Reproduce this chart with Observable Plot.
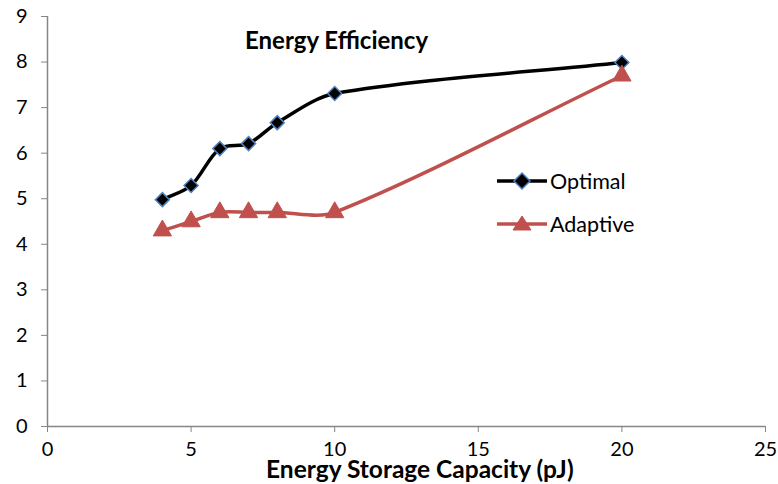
<!DOCTYPE html>
<html>
<head>
<meta charset="utf-8">
<script src="https://cdn.jsdelivr.net/npm/d3@7"></script>
<script src="https://cdn.jsdelivr.net/npm/@observablehq/plot@0.6"></script>
<style>
  html, body { margin: 0; padding: 0; background: #fff; }
  #wrap { position: relative; width: 778px; height: 484px; font-family: Lato, "Open Sans", sans-serif; }
  .title { position: absolute; left: 245px; top: 25px; font-weight: bold; font-size: 24px; color: #000; white-space: nowrap; }
  .xtitle { position: absolute; left: 266px; top: 454px; font-weight: bold; font-size: 24.5px; color: #000; white-space: nowrap; }
  .leg { position: absolute; left: 496px; height: 24px; display: flex; align-items: center; font-size: 21.5px; color: #000; }
  .leg span { margin-left: 2px; }
</style>
</head>
<body>
<div id="wrap"></div>
<script>
const xValues = [4, 5, 6, 7, 8, 10, 20];
const optimal = [4.98, 5.29, 6.10, 6.21, 6.67, 7.31, 7.99];
const adaptive = [4.30, 4.50, 4.70, 4.70, 4.70, 4.70, 7.70];
const xTicks = [0, 5, 10, 15, 20, 25];
const yTicks = [0, 1, 2, 3, 4, 5, 6, 7, 8, 9];
const seriesNames = ["Optimal", "Adaptive"];
const chartTitle = "Energy Efficiency";
const xLabel = "Energy Storage Capacity (pJ)";

const optData = xValues.map((x, i) => ({x, y: optimal[i]}));
const adpData = xValues.map((x, i) => ({x, y: adaptive[i]}));

const axisGray = "#868686";
const red = "#c0504d";
const blue = "#4f81bd";

// Spreadsheet-style smoothed line: Bezier handles follow the neighbour chord,
// scaled by each adjacent segment's own length (avoids overshoot on uneven spacing).
function SmoothCurve(context) { this._context = context; }
SmoothCurve.prototype = {
  areaStart() {}, areaEnd() {},
  lineStart() { this._pts = []; },
  point(x, y) { this._pts.push([+x, +y]); },
  lineEnd() {
    const p = this._pts, n = p.length, c = this._context, k = 0.3;
    if (!n) return;
    c.moveTo(p[0][0], p[0][1]);
    if (n === 1) return;
    const dist = (a, b) => Math.hypot(b[0] - a[0], b[1] - a[1]);
    const dir = i => {
      const a = p[Math.max(0, i - 1)], b = p[Math.min(n - 1, i + 1)];
      const d = dist(a, b) || 1;
      return [(b[0] - a[0]) / d, (b[1] - a[1]) / d];
    };
    for (let i = 0; i < n - 1; i++) {
      const a = p[i], b = p[i + 1], L = dist(a, b);
      const ua = dir(i), ub = dir(i + 1);
      c.bezierCurveTo(a[0] + ua[0] * L * k, a[1] + ua[1] * L * k,
                      b[0] - ub[0] * L * k, b[1] - ub[1] * L * k,
                      b[0], b[1]);
    }
  }
};
const smooth = ctx => new SmoothCurve(ctx);

const chart = Plot.plot({
  width: 778,
  height: 484,
  marginLeft: 47,
  marginRight: 13,
  marginTop: 16,
  marginBottom: 58,
  style: { fontFamily: "Lato, 'Open Sans', sans-serif", fontSize: "20px", color: "#000", background: "#fff", overflow: "visible" },
  x: { domain: [0, 25], label: null },
  y: { domain: [0, 9], label: null },
  marks: [
    Plot.axisY({ ticks: yTicks, tickSize: 6, tickPadding: 14, stroke: axisGray, fill: "#000", label: null }),
    Plot.axisX({ ticks: xTicks, tickSize: 6, tickPadding: 9, stroke: axisGray, fill: "#000", label: null }),
    Plot.ruleX([0], { stroke: axisGray, strokeWidth: 1.5 }),
    Plot.ruleY([0], { stroke: axisGray, strokeWidth: 1.5 }),
    Plot.line(optData, { x: "x", y: "y", stroke: "#000", strokeWidth: 3.5, curve: smooth }),
    Plot.line(adpData, { x: "x", y: "y", stroke: red, strokeWidth: 3.5, curve: smooth }),
    Plot.dot(optData, { x: "x", y: "y", symbol: "diamond2", r: 6.3, fill: "#000", stroke: blue, strokeWidth: 1.5 }),
    Plot.dot(adpData, { x: "x", y: "y", symbol: "triangle", r: 6.8, fill: red, stroke: red, strokeWidth: 1 })
  ]
});

const wrap = document.getElementById("wrap");
wrap.appendChild(chart);

const t = document.createElement("div");
t.className = "title"; t.textContent = chartTitle; wrap.appendChild(t);
const xt = document.createElement("div");
xt.className = "xtitle"; xt.textContent = xLabel; wrap.appendChild(xt);

function legendItem(name, top, markerSvg, color) {
  const d = document.createElement("div");
  d.className = "leg";
  d.style.top = top + "px";
  d.innerHTML = `<svg width="52" height="24"><line x1="1" y1="12" x2="51" y2="12" stroke="${color}" stroke-width="3.5"/>${markerSvg}</svg><span>${name}</span>`;
  wrap.appendChild(d);
}
legendItem(seriesNames[0], 169, `<path d="M26,4L34,12L26,20L18,12Z" fill="#000" stroke="${blue}" stroke-width="1.5"/>`, "#000");
legendItem(seriesNames[1], 212, `<path d="M26,4L35,18L17,18Z" fill="${red}" stroke="${red}"/>`, red);
</script>
</body>
</html>
